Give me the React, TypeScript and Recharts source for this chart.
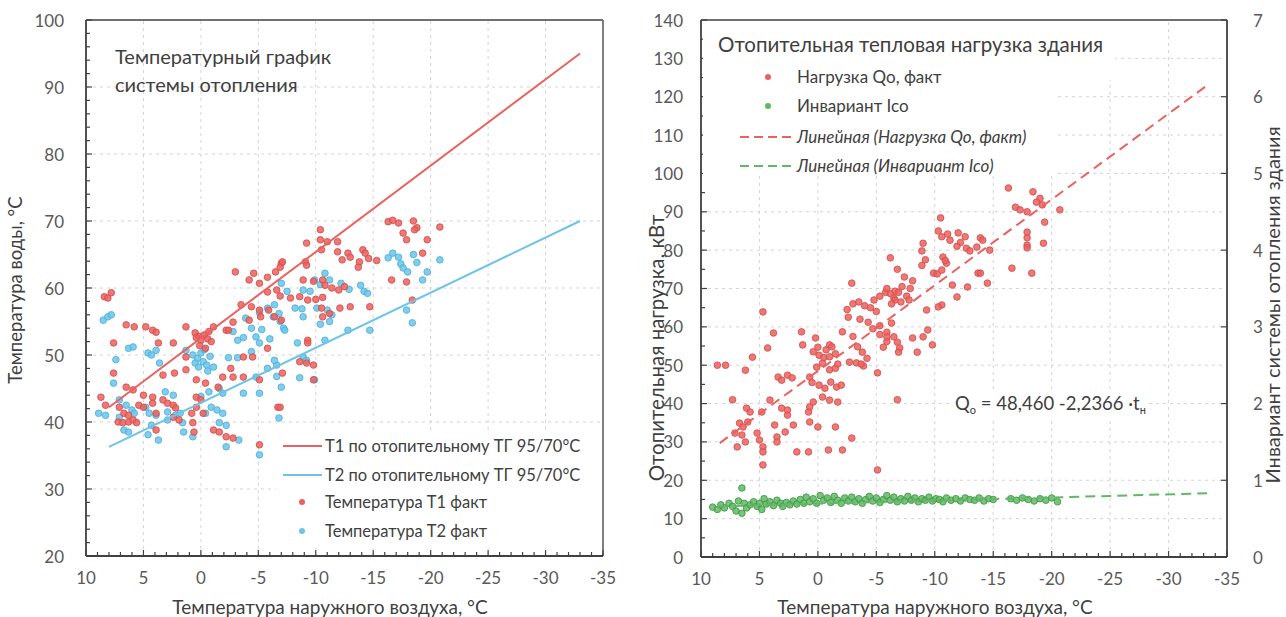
import { ScatterChart, Scatter, XAxis, YAxis, ReferenceLine } from "recharts";

// ---------- data ----------
const xMajor = [10, 5, 0, -5, -10, -15, -20, -25, -30, -35];
const leftYMajor = [20, 30, 40, 50, 60, 70, 80, 90, 100];
const qYMajor = [0, 10, 20, 30, 40, 50, 60, 70, 80, 90, 100, 110, 120, 130, 140];
const icoYMajor = [0, 1, 2, 3, 4, 5, 6, 7];

// heating curve lines (outdoor t, water t)
const t1Curve = [[8, 42.2], [-33, 95]];
const t2Curve = [[8, 36.3], [-33, 70]];

const t1Fact = [
  [8.4, 58.7], [7.8, 59.3], [8.1, 58.5], [8.7, 43.7], [8.3, 42.5], [7.6, 51.8], [7.6, 47.3], [6.5, 54.5], [5.8, 54.2],
  [4.8, 54.2], [4.2, 53.7], [3.9, 53.4], [3.7, 51.8], [2.4, 51.8], [1.3, 54.2], [1.3, 49.7],
  [0.5, 53.3], [0.2, 52.8], [0, 52.2], [-0.3, 53], [-0.6, 52.4], [-0.9, 52], [0.1, 51.4], [-0.4, 51], [0.4, 52.6],
  [-0.7, 53.5], [-1.1, 54.2], [-2.2, 53.7],
  [-3, 62.4], [-4.6, 62.2], [-4.2, 61.2], [-5.1, 60.7], [-5.8, 61.6], [-6.5, 62.4], [-7, 63.7], [-5.8, 59.4], [-5.9, 56.7],
  [-5.2, 55.7], [-5.1, 56.7], [-3.5, 57.5], [-4.4, 57.2], [-4.2, 55.2], [-2.8, 54.9], [-2.4, 53.7], [-3.7, 49.7], [-4.5, 49.7],
  [-2.6, 48], [-5.8, 51], [-1.9, 46.7], [-2.8, 46.7], [-3.7, 46.7], [-5.1, 46.3],
  [0.4, 46.3], [-0.4, 45.8], [1.3, 47.8], [3.3, 47], [2.3, 47.3], [6.5, 45.2], [5.9, 44.8], [5, 44], [4.2, 43.7], [3.3, 43.3],
  [2.9, 42.8], [2.4, 42.5], [2.2, 42.1], [0.4, 43.7], [0, 43.3], [-1.5, 45.2], [0.8, 41.3], [0.4, 42.2], [5.4, 42.5], [5, 42.2],
  [4.2, 42.8], [3.9, 41.3], [7.1, 42.2], [6.7, 41.3], [6.3, 41], [7.2, 40], [6.8, 39.9], [6.3, 40], [5.9, 40.3], [5.6, 39.9],
  [3.9, 38.8], [2.4, 40.7], [1.9, 40.3], [-0.2, 41.3], [0.7, 39.9], [0.6, 38.5], [-1.1, 38.8], [-1.6, 38.5], [-2.2, 37.8],
  [-2.8, 37.6], [-5.1, 36.6], [-6.7, 42.2],
  [-16.3, 69.9], [-16.7, 70.1], [-17.2, 69.7], [-18.5, 70], [-18.8, 69], [-18.6, 68.7], [-20.8, 69.1], [-17.6, 68.2],
  [-17.9, 67.2], [-19.7, 67.2], [-19.3, 65.2], [-10.4, 68.7], [-9.2, 66.7], [-10.4, 67.2], [-11, 66.9], [-11.9, 66.9],
  [-10.5, 65.7], [-11.9, 65.4], [-12.8, 65.2], [-14.1, 65.7], [-14.3, 65.2], [-12.3, 64.2], [-13, 64.6], [-13.8, 63.9],
  [-14.6, 64.4], [-15.3, 64.1], [-9.1, 63.9], [-9.2, 63.4], [-7.1, 63.9], [-6.9, 63.1], [-13.7, 63.1], [-16.6, 61.2],
  [-17.9, 60.9], [-18.4, 58.2], [-8.9, 61.2], [-9.8, 61], [-10.6, 61.2], [-10.8, 60.4], [-11.4, 60], [-12, 59.7], [-12.5, 60.2],
  [-6.6, 59.7], [-6.9, 58.8], [-7.8, 58.5], [-8.6, 58.7], [-9.3, 58.2], [-10, 58.3], [-10.6, 58.6], [-10.5, 57], [-11.2, 56.2],
  [-12.1, 57], [-13, 57.2], [-14.7, 57.2], [-6.4, 55.7], [-7, 55.2], [-10.6, 55.7], [-9.3, 52.2], [-9.3, 51.8], [-8.6, 49],
  [-9.2, 48.8], [-9.8, 48.5], [-9.8, 46.3], [-6.9, 42.2], [-7.1, 47.3],
];

const t2Fact = [
  [8.5, 55.2], [8.1, 55.7], [7.8, 56], [7.4, 49.3], [7.6, 45.8], [6.3, 51], [5.9, 51.2], [4.6, 50.3], [4.3, 50], [3.9, 50.7],
  [3.6, 48.8], [1.3, 50.7], [0.7, 50], [0.3, 49.5], [0, 50.3], [-0.2, 49], [-0.5, 48.5], [-0.8, 49.8], [-1.1, 48.2], [0.5, 48.8],
  [-0.3, 50.8], [0.2, 48.2], [-0.6, 47.6],
  [-2.8, 53.5], [-3.9, 55.5], [-4.4, 54], [-5.1, 56.3], [-5.8, 57], [-6.8, 56.2], [-6.4, 57.5], [-5.3, 53.8], [-3.2, 52.2],
  [-3.7, 52.6], [-4.8, 52.7], [-5.1, 51.8], [-6, 52.4], [-2.4, 49.6], [-3.2, 49.6], [-4.4, 50.5], [-4.8, 46.7], [-5.8, 48],
  [-6.6, 48.5], [-3.7, 44.3], [-5.1, 44.3], [-6.8, 40.6],
  [8.9, 41.3], [8.3, 41], [7.1, 43.3], [6.5, 42.5], [6, 41.8], [5.8, 41.3], [7.1, 40.7], [6.7, 38.8], [6.3, 38.5], [4.8, 42.2],
  [4.5, 41.3], [4.3, 39.5], [3.9, 41], [4.6, 38.1], [3.7, 37.3], [3.1, 44.5], [2.4, 44], [2.9, 41.5], [2.2, 41], [1.8, 41.3],
  [2.9, 40.3], [1.6, 39.9], [1.5, 38.5], [0.7, 37.8], [-0.4, 41.3], [-0.9, 42.2], [-1.4, 41.8], [-1.9, 41.3], [0, 43.8],
  [-0.7, 44.5], [-1.6, 45], [-1.9, 44.3], [-1.6, 39.9], [-2.2, 39.5], [-2.2, 36.3], [-3.3, 37.3], [-5.1, 35.1],
  [-16.3, 64.5], [-16.7, 65.2], [-17.2, 64.6], [-17.4, 63.6], [-17.6, 63], [-18, 62.4], [-18.5, 65], [-18.8, 63.8],
  [-19.7, 62.4], [-20.8, 64.2], [-19.3, 61.2], [-17.9, 56.7], [-18.4, 54.8], [-14.7, 53.7], [-12.8, 53.7], [-11.2, 61.2],
  [-12.2, 60.7], [-12.9, 59.8], [-13.9, 60.4], [-14.2, 59.5], [-14.5, 59.2], [-9.9, 61.2], [-10.4, 60.5], [-10.8, 62.2],
  [-8.9, 59.7], [-9.5, 59.5], [-10.1, 57], [-11, 56.7], [-11.4, 56], [-7, 60.7], [-7.5, 59.5], [-6.3, 55.7], [-6.9, 55],
  [-7.2, 54], [-7.3, 53.7], [-8.2, 57], [-8.8, 56.9], [-8.9, 55.7], [-10.4, 54.6], [-11.2, 55], [-10.8, 52.2], [-8.4, 51.8],
  [-8.9, 49.7], [-9.2, 49.2], [-8.6, 46.6], [-9.9, 46.3], [-7, 45.2], [-6.4, 49.2], [-6.6, 46.8],
];

// heating load Qo, kW
const qFact = [
  [8.6, 50], [7.9, 50], [7.3, 41], [6.2, 48.7], [5.6, 52.1], [4.7, 63.9], [4.3, 54.5], [3.8, 58.4], [3.4, 46.9], [3.1, 46.1],
  [2.6, 47.4], [2.2, 46.7], [1.4, 58.7], [1.3, 55.3], [0.7, 46.9], [0.2, 57.1], [0, 54.7],
  [0.4, 53.5], [-0.1, 52.6], [-0.5, 52], [-0.7, 54], [-1, 55.3], [-1.2, 54.8], [-1, 52.2], [-1.5, 53],
  [0.1, 49.5], [-0.4, 50.5], [-1, 48.8], [-1.5, 49.2], [-1.7, 50.3],
  [0.5, 45.5], [-0.1, 44.8], [-0.6, 44], [-1.1, 45.6], [-1.6, 44.3], [-2, 44.8],
  [-0.4, 41.7], [-1, 40.9], [-1.7, 40.4], [0.4, 40.4], [0.7, 39.1], [0.8, 37.8], [0.7, 35.2], [0, 33.9], [-1.5, 33.9],
  [1.8, 27.4], [0.8, 27.4], [-0.9, 27.9], [-2.1, 27.9], [-2.9, 31],
  [3.7, 34.4], [2.8, 32.6], [2.1, 34.4], [3.1, 38.8], [2.6, 38.3], [2.6, 37], [4.1, 40.9], [4.8, 37.8], [5.2, 32.3], [5, 30.5],
  [4.7, 28.7], [4.7, 27.4], [4.7, 24], [6.1, 38.8], [5.8, 37.8], [6.7, 34.9], [6.4, 33.9], [6, 35.2], [7.1, 32.3], [6.5, 31.8],
  [6.2, 30], [6.9, 28.7], [3.5, 31.3], [3.5, 30],
  [-5.1, 48], [-5.1, 22.7], [-6.8, 41], [-2.9, 71.4],
  [-2.5, 64.5], [-3, 66], [-3.5, 66.5], [-4, 65.5], [-4.5, 65], [-5, 64], [-4.8, 67], [-5.3, 68], [-5.8, 69], [-6.2, 68.7],
  [-6.5, 67.5], [-6.6, 69.3], [-2.6, 62.5], [-3.6, 62], [-4.3, 61.2], [-4.7, 59.5], [-5.3, 60.3], [-5.9, 58.6], [-6.3, 61],
  [-2.1, 58.7], [-3, 57.5], [-3.4, 54.8], [-3.8, 53.4], [-4.2, 51.8], [-2.7, 50.8], [-3.3, 50.6], [-3.9, 49.8], [-3.7, 50.3],
  [-5.3, 58], [-5.9, 56.2], [-6.5, 57.4], [-7, 54.5],
  [-16.3, 96.2], [-18.4, 95.2], [-19, 93.5], [-18.7, 92.5], [-19.2, 91.8], [-16.9, 91.2], [-17.3, 90.5], [-17.9, 90],
  [-20.7, 90.5], [-19.4, 87.3], [-17.9, 84.7], [-17.9, 83.2], [-17.9, 81.3], [-17.9, 80.6], [-19.3, 81.8], [-16.6, 75.3],
  [-18.3, 74], [-14.7, 80], [-14.5, 71.4], [-13.9, 83.2], [-14.1, 82.6], [-13.6, 80.8], [-13.7, 74],
  [-12, 84.5], [-12.6, 83.5], [-12.2, 82], [-11.9, 81], [-12.7, 80.5], [-13, 79.8],
  [-10.5, 88.4], [-10.3, 85], [-10.6, 83.5], [-11.1, 84.2], [-11.3, 82.6], [-9, 81.8], [-8.9, 79.8], [-9.2, 77.5], [-8.9, 76],
  [-10.7, 78.2], [-11, 76.6], [-10.9, 77.3], [-9.9, 74], [-10.2, 73.8], [-10.6, 74.8], [-11.5, 70.9], [-12.8, 70.4],
  [-11.9, 67.8], [-10.6, 65.7], [-10.3, 65.2], [-13.9, 74],
  [-6.2, 78], [-6.8, 75], [-7.4, 73], [-8.1, 72], [-7.2, 70.5], [-7.9, 70], [-6.9, 69], [-7.6, 68], [-6.6, 67], [-7.1, 66.5],
  [-6.3, 66], [-7.8, 67], [-5.9, 70], [-9.3, 64.4], [-9.4, 59.2], [-9, 57.4], [-8.1, 57.1], [-8.5, 53.4], [-6.8, 56],
  [-6.9, 53.4], [-9.8, 55.3], [-5.9, 57.4], [-5.6, 54.7],
];

// invariant Ico (right axis)
const icoFact = [
  [9, 0.65], [8.6, 0.62], [8.3, 0.68], [8, 0.64], [7.6, 0.7], [7.3, 0.66], [7, 0.6], [6.8, 0.73], [6.5, 0.9], [6.5, 0.57],
  [6.3, 0.7], [6.1, 0.64], [5.8, 0.68], [5.5, 0.72], [5.2, 0.66], [5, 0.7], [4.8, 0.62], [4.6, 0.76], [4.4, 0.69], [4.1, 0.72],
  [3.8, 0.67], [3.5, 0.74], [3.2, 0.7], [3, 0.66], [2.7, 0.71], [2.4, 0.68], [2.1, 0.73], [1.8, 0.69], [1.5, 0.75], [1.2, 0.7],
  [1, 0.78], [0.7, 0.72], [0.4, 0.76], [0.1, 0.7], [-0.2, 0.8], [-0.5, 0.74], [-0.8, 0.77], [-1.1, 0.71], [-1.4, 0.79],
  [-1.7, 0.74], [-2, 0.7], [-2.3, 0.77], [-2.6, 0.73], [-2.9, 0.78], [-3.2, 0.72], [-3.5, 0.76], [-3.8, 0.7], [-4.1, 0.75],
  [-4.4, 0.79], [-4.7, 0.73], [-5, 0.77], [-5.3, 0.71], [-5.6, 0.75], [-5.9, 0.8], [-6.2, 0.74], [-6.5, 0.78], [-6.8, 0.72],
  [-7.1, 0.76], [-7.4, 0.73], [-7.7, 0.79], [-8, 0.74], [-8.3, 0.77], [-8.6, 0.72], [-8.9, 0.76], [-9.2, 0.74], [-9.5, 0.78],
  [-9.8, 0.73], [-10.1, 0.76], [-10.4, 0.75], [-10.7, 0.72], [-11, 0.77], [-11.4, 0.74], [-11.8, 0.76], [-12.2, 0.73],
  [-12.6, 0.77], [-13, 0.75], [-13.4, 0.74], [-13.8, 0.77], [-14.2, 0.73], [-14.6, 0.76], [-15, 0.75], [-16.5, 0.76],
  [-17, 0.74], [-17.5, 0.77], [-18, 0.75], [-18.5, 0.73], [-19, 0.76], [-19.5, 0.74], [-20, 0.77], [-20.5, 0.72],
];

// linear trends
const qTrend = [[8.4, 29.7], [-33.5, 123.4]];
const icoTrend = [[8.6, 0.66], [-33.3, 0.83]];

// ---------- helpers ----------
const FONT = "Lato, 'Open Sans', sans-serif";
const RED = "#e9625f";
const BLUE = "#6cc4e8";
const GREEN = "#62b866";
const AXIS = "#404040";
const FRAME = "#707070";
const GRID = "#d4d4d4";
const LABEL = "#595959";
const M = 10; // tickMargin used to recover the axis position inside custom ticks

const pts = (arr: number[][]) => arr.map(([x, y]) => ({ x, y }));
const range = (a: number, b: number, step: number) => {
  const out: number[] = [];
  for (let v = a; v <= b + 1e-9; v += step) out.push(Math.round(v * 100) / 100);
  return out;
};

// inward tick marks + labels on major values only
const bottomTick = (majors: number[]) => (p: any) => {
  const v = p.payload.value;
  const ay = p.y - M;
  const major = majors.includes(v);
  return (
    <g>
      <line x1={p.x} x2={p.x} y1={ay} y2={ay - (major ? 6 : 4)} stroke={AXIS} strokeWidth={1.2} />
      {major && (
        <text x={p.x} y={ay + 21} textAnchor="middle" dominantBaseline="central" fontSize={17} fill={LABEL}>{v}</text>
      )}
    </g>
  );
};
const leftTick = (majors: number[], gap: number) => (p: any) => {
  const v = p.payload.value;
  const ax = p.x + M;
  const major = majors.includes(v);
  return (
    <g>
      <line x1={ax} x2={ax + (major ? 6 : 4)} y1={p.y} y2={p.y} stroke={AXIS} strokeWidth={1.2} />
      {major && (
        <text x={ax - gap} y={p.y} textAnchor="end" dominantBaseline="central" fontSize={17} fill={LABEL}>{v}</text>
      )}
    </g>
  );
};
const rightTick = (gap: number) => (p: any) => {
  const ax = p.x - M;
  return (
    <g>
      <line x1={ax} x2={ax - 6} y1={p.y} y2={p.y} stroke={AXIS} strokeWidth={1.2} />
      <text x={ax + gap} y={p.y} textAnchor="start" dominantBaseline="central" fontSize={17} fill={LABEL}>{p.payload.value}</text>
    </g>
  );
};

const dot = (fill: string, stroke: string) => (p: any) =>
  p.cx == null ? <g /> : (
    <circle cx={p.cx} cy={p.cy} r={3.3} fill={fill} fillOpacity={0.85} stroke={stroke} strokeOpacity={0.9} strokeWidth={1} />
  );
const noDot = () => <g />;

const xMinor = range(-35, 10, 1);

function TempChart() {
  const yMinor = range(20, 100, 2);
  return (
    <ScatterChart width={640} height={617} margin={{ top: 20, right: 37, bottom: 31, left: 0 }}>
      {xMajor.slice(1, -1).map((v) => (
        <ReferenceLine key={"vx" + v} x={v} stroke={GRID} strokeDasharray="3 4" />
      ))}
      {leftYMajor.slice(1, -1).map((v) => (
        <ReferenceLine key={"hy" + v} y={v} stroke={GRID} strokeDasharray="3 4" />
      ))}
      <XAxis
        dataKey="x" type="number" domain={[-35, 10]} reversed ticks={xMinor} interval={0}
        tickSize={0} tickMargin={M} height={30} tick={bottomTick(xMajor)}
        axisLine={false} tickLine={false} allowDataOverflow
      />
      <YAxis
        dataKey="y" type="number" domain={[20, 100]} ticks={yMinor} interval={0}
        tickSize={0} tickMargin={M} width={86} tick={leftTick(leftYMajor, 22)}
        axisLine={false} tickLine={false} allowDataOverflow
      />
      <Scatter name="T2 факт" data={pts(t2Fact)} shape={dot(BLUE, "#4fb3dc")} isAnimationActive={false} />
      <Scatter name="T1 факт" data={pts(t1Fact)} shape={dot(RED, "#d9504d")} isAnimationActive={false} />
      <Scatter name="T1 ТГ" data={pts(t1Curve)} line={{ stroke: RED, strokeWidth: 2 }} shape={noDot} isAnimationActive={false} />
      <Scatter name="T2 ТГ" data={pts(t2Curve)} line={{ stroke: BLUE, strokeWidth: 2 }} shape={noDot} isAnimationActive={false} />
      {/* plot frame */}
      <ReferenceLine y={100} stroke={FRAME} strokeWidth={1.8} />
      <ReferenceLine x={-35} stroke={FRAME} strokeWidth={1.8} />
      <ReferenceLine y={20} stroke={AXIS} strokeWidth={1.8} />
      <ReferenceLine x={10} stroke={AXIS} strokeWidth={1.8} />
    </ScatterChart>
  );
}

function LoadChart() {
  const qMinor = range(0, 140, 5);
  return (
    <ScatterChart width={640} height={617} margin={{ top: 20, right: 13, bottom: 30, left: 0 }}>
      {xMajor.slice(1, -1).map((v) => (
        <ReferenceLine key={"vx" + v} x={v} yAxisId="left" stroke={GRID} strokeDasharray="3 4" />
      ))}
      {qYMajor.slice(1, -1).map((v) => (
        <ReferenceLine key={"hy" + v} y={v} yAxisId="left" stroke={GRID} strokeDasharray="3 4" />
      ))}
      <XAxis
        dataKey="x" type="number" domain={[-35, 10]} reversed ticks={xMinor} interval={0}
        tickSize={0} tickMargin={M} height={30} tick={bottomTick(xMajor)}
        axisLine={false} tickLine={false} allowDataOverflow
      />
      <YAxis
        yAxisId="left" dataKey="y" type="number" domain={[0, 140]} ticks={qMinor} interval={0}
        tickSize={0} tickMargin={M} width={61} tick={leftTick(qYMajor, 18)}
        axisLine={false} tickLine={false} allowDataOverflow
      />
      <YAxis
        yAxisId="right" orientation="right" dataKey="y" type="number" domain={[0, 7]} ticks={icoYMajor} interval={0}
        tickSize={0} tickMargin={M} width={40} tick={rightTick(26)}
        axisLine={false} tickLine={false} allowDataOverflow
      />
      <Scatter name="Инвариант Ico" yAxisId="right" data={pts(icoFact)} shape={dot(GREEN, "#3f9a45")} isAnimationActive={false} />
      <Scatter name="Нагрузка Qо, факт" yAxisId="left" data={pts(qFact)} shape={dot(RED, "#d9504d")} isAnimationActive={false} />
      <Scatter name="Линейная (Нагрузка Qо, факт)" yAxisId="left" data={pts(qTrend)} line={{ stroke: RED, strokeWidth: 2, strokeDasharray: "10 6" }} shape={noDot} isAnimationActive={false} />
      <Scatter name="Линейная (Инвариант Ico)" yAxisId="right" data={pts(icoTrend)} line={{ stroke: GREEN, strokeWidth: 2, strokeDasharray: "10 6" }} shape={noDot} isAnimationActive={false} />
      {/* plot frame */}
      <ReferenceLine y={140} yAxisId="left" stroke={FRAME} strokeWidth={1.8} />
      <ReferenceLine x={-35} yAxisId="left" stroke={AXIS} strokeWidth={1.8} />
      <ReferenceLine y={0} yAxisId="left" stroke={AXIS} strokeWidth={1.8} />
      <ReferenceLine x={10} yAxisId="left" stroke={AXIS} strokeWidth={1.8} />
    </ScatterChart>
  );
}

function Overlay() {
  const t = { fill: "#404040", fontFamily: FONT };
  return (
    <svg width={1286} height={617} style={{ position: "absolute", left: 0, top: 0, pointerEvents: "none" }}>
      {/* left chart */}
      <text x={115} y={64} fontSize={20} {...t}>Температурный график</text>
      <text x={115} y={92} fontSize={20} {...t}>системы отопления</text>
      <rect x={276} y={432} width={325} height={116} fill="#fff" />
      <line x1={283} x2={322} y1={446} y2={446} stroke={RED} strokeWidth={2} />
      <text x={325} y={452} fontSize={16.5} {...t}>T1 по отопительному  ТГ 95/70°C</text>
      <line x1={283} x2={322} y1={475} y2={475} stroke={BLUE} strokeWidth={2} />
      <text x={325} y={481} fontSize={16.5} {...t}>T2 по отопительному  ТГ 95/70°C</text>
      <circle cx={302} cy={502} r={3} fill={RED} />
      <text x={325} y={508} fontSize={16.5} {...t}>Температура T1 факт</text>
      <circle cx={302} cy={531} r={3} fill={BLUE} />
      <text x={325} y={537} fontSize={16.5} {...t}>Температура T2 факт</text>
      <text x={22} y={290} fontSize={18.5} textAnchor="middle" transform="rotate(-90 22 290)" {...t}>Температура воды, °C</text>
      <text x={330} y={614} fontSize={19} textAnchor="middle" {...t}>Температура наружного воздуха, °C</text>

      {/* right chart */}
      <rect x={703} y={22} width={412} height={58} fill="#fff" />
      <rect x={703} y={80} width={352} height={94} fill="#fff" />
      <text x={718} y={52} fontSize={20.5} {...t}>Отопительная тепловая нагрузка здания</text>
      <circle cx={768} cy={77} r={3} fill={RED} />
      <text x={797} y={83} fontSize={17} {...t}>Нагрузка Qо, факт</text>
      <circle cx={768} cy={106} r={3} fill={GREEN} />
      <text x={797} y={112} fontSize={17} {...t}>Инвариант Ico</text>
      <line x1={740} x2={795} y1={137} y2={137} stroke={RED} strokeWidth={2} strokeDasharray="9 5" />
      <text x={797} y={143} fontSize={17} fontStyle="italic" {...t}>Линейная (Нагрузка Qо, факт)</text>
      <line x1={740} x2={795} y1={166} y2={166} stroke={GREEN} strokeWidth={2} strokeDasharray="9 5" />
      <text x={797} y={172} fontSize={17} fontStyle="italic" {...t}>Линейная (Инвариант Ico)</text>
      <rect x={952} y={392} width={196} height={26} fill="#fff" />
      <text x={955} y={410} fontSize={18.5} {...t}>
        Q<tspan fontSize={11} dy={4}>о</tspan>
        <tspan dy={-4}> = 48,460  -2,2366  ·t</tspan>
        <tspan fontSize={11} dy={4}>н</tspan>
      </text>
      <text x={664} y={348} fontSize={20.5} textAnchor="middle" transform="rotate(-90 664 348)" {...t}>Отопительная нагрузка, кВт</text>
      <text x={1280} y={305} fontSize={20} textAnchor="middle" transform="rotate(-90 1280 305)" {...t}>Инвариант системы отопления здания</text>
      <text x={935} y={614} fontSize={19} textAnchor="middle" {...t}>Температура наружного воздуха, °C</text>
    </svg>
  );
}

export default function App() {
  return (
    <div style={{ position: "absolute", left: 0, top: 0, width: 1286, height: 617, background: "#fff", fontFamily: FONT, overflow: "hidden" }}>
      <div style={{ position: "absolute", left: 0, top: 0 }}>
        <TempChart />
      </div>
      <div style={{ position: "absolute", left: 640, top: 0 }}>
        <LoadChart />
      </div>
      <Overlay />
    </div>
  );
}
